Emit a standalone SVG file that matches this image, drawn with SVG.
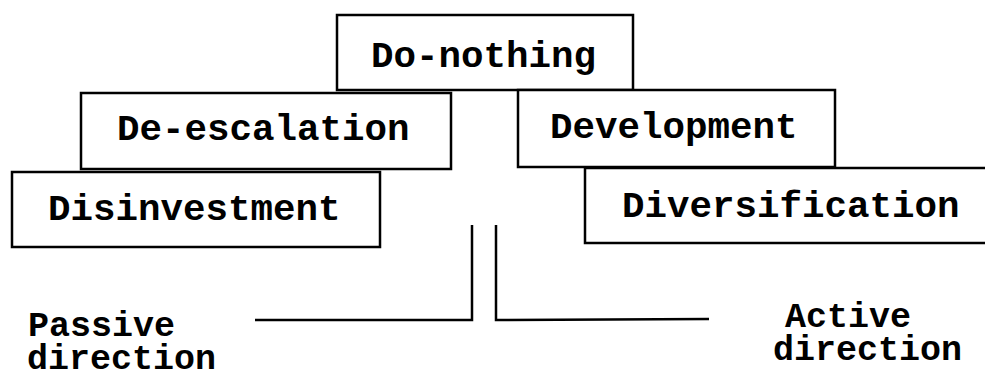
<svg xmlns="http://www.w3.org/2000/svg" width="985" height="374" viewBox="0 0 985 374">
<style>
.box{fill:#fff;stroke:#000;stroke-width:2.5}
.t{font-family:"Liberation Mono","Courier New",monospace;font-weight:bold;font-size:37.5px;fill:#000}
.l{font-family:"Liberation Mono","Courier New",monospace;font-weight:bold;font-size:35px;fill:#000}
.c{fill:none;stroke:#000;stroke-width:2.5}
</style>
<rect width="985" height="374" fill="#fff"/>
<g id="do-nothing"><rect class="box" x="337" y="15" width="296" height="75"/><text class="t" x="371" y="67">Do-nothing</text></g>
<g id="de-escalation"><rect class="box" x="81" y="93" width="370" height="76"/><text class="t" x="117" y="140">De-escalation</text></g>
<g id="development"><rect class="box" x="518" y="90" width="317" height="77"/><text class="t" x="550" y="138">Development</text></g>
<g id="disinvestment"><rect class="box" x="12" y="172" width="368" height="75"/><text class="t" x="48" y="220">Disinvestment</text></g>
<g id="diversification"><rect class="box" x="585" y="168" width="410" height="75"/><text class="t" x="622" y="217">Diversification</text></g>
<g id="connectors">
<polyline class="c" points="472,225 472,320 255,320"/>
<polyline class="c" points="496,225 496,320 709,319"/>
</g>
<g id="passive"><text class="l" x="28" y="336">Passive</text><text class="l" x="27" y="369">direction</text></g>
<g id="active"><text class="l" x="785" y="327">Active</text><text class="l" x="773" y="360">direction</text></g>
</svg>
